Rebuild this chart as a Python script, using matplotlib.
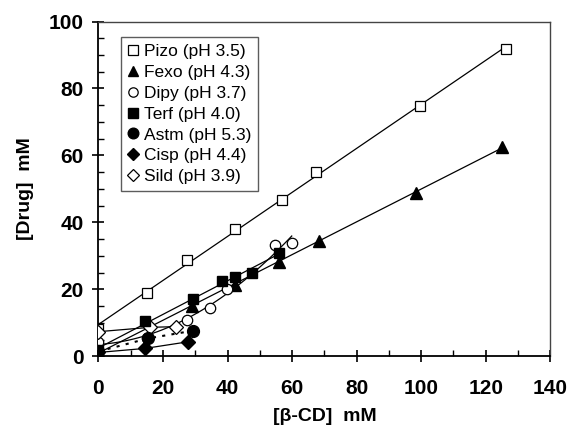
import matplotlib
matplotlib.use("Agg")
import matplotlib.pyplot as plt
import numpy as np

plt.rcParams['font.family'] = ['Liberation Sans', 'DejaVu Sans']

# phase solubility data, [beta-CD] mM vs [Drug] mM
pizo_x = [0, 15, 27.5, 42.3, 57, 67.4, 99.5, 126.4]
pizo_y = [8.2, 18.9, 28.8, 38, 46.8, 55.1, 74.8, 91.7]

fexo_x = [0, 29, 42.3, 55.8, 68.2, 98.5, 125]
fexo_y = [1.5, 15, 21.3, 28.3, 34.6, 48.9, 62.6]

dipy_x = [0, 15, 27.3, 34.6, 39.7, 54.7, 59.9]
dipy_y = [4.2, 5.4, 10.9, 14.4, 20, 33.3, 33.8]

terf_x = [0, 14.4, 29.2, 38.2, 42.3, 47.5, 55.8]
terf_y = [1.9, 10.6, 17.1, 22.6, 23.6, 25, 31]

astm_x = [0, 15.4, 29.4]
astm_y = [1.5, 5.4, 7.7]

cisp_x = [0, 14.4, 27.9]
cisp_y = [1.2, 2.4, 4.4]

sild_x = [0, 16, 24]
sild_y = [7.4, 8.7, 8.9]

fig = plt.figure(figsize=(5.69, 4.30), dpi=100)
ax = fig.add_axes([0.173, 0.171, 0.794, 0.779])

ms = 7.5
# fitted lines
def fit_line(x, y, deg=1, **kw):
    c = np.polyfit(x, y, deg)
    xx = np.linspace(min(x), max(x), 50)
    ax.plot(xx, np.polyval(c, xx), color='black', lw=0.9, zorder=2, **kw)

fit_line(pizo_x, pizo_y)
fit_line(fexo_x, fexo_y)
fit_line(terf_x, terf_y)
fit_line(dipy_x, dipy_y, deg=2)
ax.plot(sild_x, sild_y, color='black', lw=0.9, zorder=2)
ax.plot(cisp_x, cisp_y, color='black', lw=0.9, zorder=2)
ax.plot(astm_x, astm_y, color='black', lw=1.5, ls=(0, (1.5, 3)), zorder=2)

ax.plot(pizo_x, pizo_y, 's', ms=ms, mfc='white', mec='black', mew=0.9, ls='none',
        label='Pizo (pH 3.5)', zorder=3)
ax.plot(fexo_x, fexo_y, '^', ms=ms + 1, mfc='black', mec='black', ls='none',
        label='Fexo (pH 4.3)', zorder=3)
ax.plot(dipy_x, dipy_y, 'o', ms=ms, mfc='white', mec='black', mew=0.9, ls='none',
        label='Dipy (pH 3.7)', zorder=3)
ax.plot(terf_x, terf_y, 's', ms=ms, mfc='black', mec='black', ls='none',
        label='Terf (pH 4.0)', zorder=4)
ax.plot(astm_x, astm_y, 'o', ms=ms + 1, mfc='black', mec='black', ls='none',
        label='Astm (pH 5.3)', zorder=4)
ax.plot(cisp_x, cisp_y, 'D', ms=ms - 0.5, mfc='black', mec='black', ls='none',
        label='Cisp (pH 4.4)', zorder=4)
ax.plot(sild_x, sild_y, 'D', ms=ms - 0.5, mfc='white', mec='black', mew=0.9, ls='none',
        label='Sild (pH 3.9)', zorder=3)

ax.set_xlim(0, 140)
ax.set_ylim(0, 100)
ax.set_xticks(np.arange(0, 141, 20))
ax.set_xticks(np.arange(0, 141, 10), minor=True)
ax.set_yticks(np.arange(0, 101, 20))
ax.set_yticks(np.arange(0, 101, 5), minor=True)
ax.tick_params(which='major', direction='inout', length=9, width=1.2,
               labelsize=15, top=False, right=False)
ax.tick_params(which='minor', direction='in', length=4, width=1.0,
               top=False, right=False)
ax.tick_params(axis='x', which='major', pad=12)
ax.tick_params(axis='y', which='major', pad=6)
for lab in ax.get_xticklabels() + ax.get_yticklabels():
    lab.set_fontweight('bold')
for side in ['left', 'bottom']:
    ax.spines[side].set_linewidth(1.3)
for side in ['top', 'right']:
    ax.spines[side].set_linewidth(1.0)
    ax.spines[side].set_color('#444444')

ax.set_xlabel('[β-CD]  mM', fontsize=14, fontweight='bold', labelpad=7)
ax.set_ylabel('[Drug]  mM', fontsize=14, fontweight='bold', labelpad=11)

leg = ax.legend(loc='upper left', bbox_to_anchor=(0.05, 0.954), borderaxespad=0,
                fontsize=12.5, frameon=True, fancybox=False, handlelength=0.6,
                handletextpad=0.3, labelspacing=0.33, borderpad=0.4, markerscale=0.9)
leg.get_frame().set_edgecolor('#333333')
leg.get_frame().set_linewidth(1.0)

fig.savefig('out.png', dpi=100)
